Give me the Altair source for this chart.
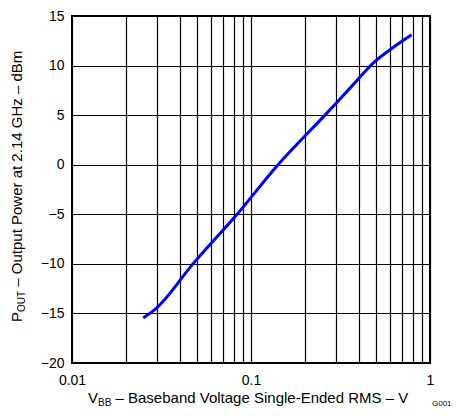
import altair as alt
import pandas as pd

# Data
vbb = [0.025, 0.0291, 0.0474, 0.0836, 0.1416, 0.259, 0.3605, 0.485, 0.62, 0.79]
pout = [-15.45, -14.6, -10.0, -5.0, 0.0, 5.0, 7.8, 10.3, 11.8, 13.1]

x_grid = [0.01, 0.02, 0.03, 0.04, 0.05, 0.06, 0.07, 0.08, 0.09,
          0.1, 0.2, 0.3, 0.4, 0.5, 0.6, 0.7, 0.8, 0.9, 1]
y_ticks = [-20, -15, -10, -5, 0, 5, 10, 15]

FONT = "Liberation Sans"

df = pd.DataFrame({"vbb": vbb, "pout": pout})

line = alt.Chart(df).mark_line(color="#0000FF", strokeWidth=3, clip=True,
                               interpolate="monotone").encode(
    x=alt.X("vbb:Q",
            scale=alt.Scale(type="log", domain=[0.01, 1], nice=False),
            axis=alt.Axis(values=x_grid, title=None, format="~g",
                          labelExpr="datum.value == 0.01 || datum.value == 0.1 || datum.value == 1 ? datum.label : ''",
                          labelOverlap=False, labelFlush=False,
                          grid=True, gridColor="black", gridWidth=1.2, gridOpacity=1,
                          ticks=False, domain=False, labelPadding=10,
                          labelFontSize=14, labelFont=FONT, labelColor="black")),
    y=alt.Y("pout:Q",
            scale=alt.Scale(domain=[-20, 15], nice=False),
            axis=alt.Axis(values=y_ticks, title=None,
                          grid=True, gridColor="black", gridWidth=1.2, gridOpacity=1,
                          ticks=False, domain=False, labelPadding=8,
                          labelOverlap=False, labelFlush=False,
                          labelFontSize=14, labelFont=FONT, labelColor="black")),
)

one = alt.Data(values=[{}])

def txt(text, x, y, size, angle=0):
    return alt.Chart(one).mark_text(
        text=text, align="left", baseline="alphabetic", font=FONT,
        fontSize=size, color="black", angle=angle
    ).encode(x=alt.value(x), y=alt.value(y))

# X axis title with subscript
xt1 = txt("V", 16, 387, 15)
xt2 = txt("BB", 26, 390, 10)
xt3 = txt("\u2013 Baseband Voltage Single-Ended RMS \u2013 V", 43.5, 387, 15)

# Y axis title (rotated) with subscript
yt1 = txt("P", -50, 306, 15, angle=270)
yt2 = txt("OUT", -47, 296, 10, angle=270)
yt3 = txt("\u2013 Output Power at 2.14 GHz \u2013 dBm", -50, 270.7, 15, angle=270)

gtag = txt("G001", 360, 390, 8)

chart = alt.layer(line, xt1, xt2, xt3, yt1, yt2, yt3, gtag).properties(
    width=358, height=347,
    autosize=alt.AutoSizeParams(type="none"),
    padding={"left": 64, "top": 8, "right": 22, "bottom": 44},
).configure_view(stroke="black", strokeWidth=2)

chart.save("out.html", embed_options={"renderer": "svg", "actions": False})
